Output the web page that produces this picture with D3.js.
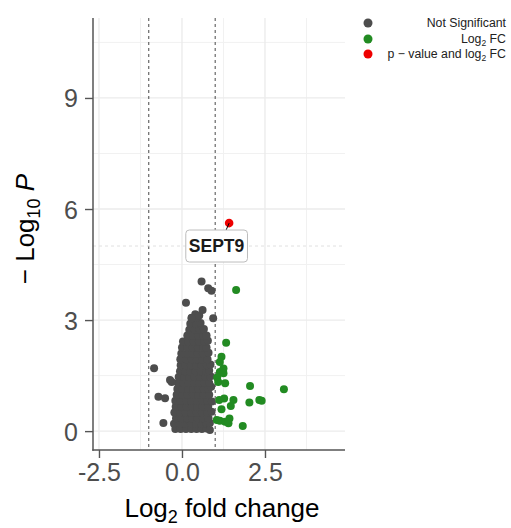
<!doctype html>
<html lang="en">

<head>
  <meta charset="utf-8">
  <title>Volcano plot</title>
  <style>
    body { margin: 0; background: #fff; }
    svg { display: block; font-family: "Liberation Sans", Arial, sans-serif; }
  </style>
</head>

<body>
  <div id="volcano"></div>

  <script src="https://d3js.org/d3.v7.min.js"></script>
  <script>
    // Data (log2 fold change, -log10 p) -----------------------------------------
    const notSignificant = [
      [-0.20, 0.06], [-0.04, 0.06], [0.12, 0.06], [0.28, 0.06], [0.44, 0.06], [0.60, 0.06], [0.74, 0.07],
      [-0.24, 0.20], [-0.06, 0.20], [0.10, 0.20], [0.27, 0.20], [0.43, 0.20], [0.58, 0.20], [0.74, 0.20], [0.84, 0.22],
      [-0.18, 0.35], [-0.01, 0.35], [0.15, 0.35], [0.31, 0.35], [0.47, 0.35], [0.63, 0.35], [0.80, 0.35],
      [-0.23, 0.50], [-0.05, 0.50], [0.11, 0.50], [0.27, 0.50], [0.44, 0.50], [0.60, 0.50], [0.76, 0.50], [0.89, 0.52],
      [-0.19, 0.66], [-0.02, 0.66], [0.14, 0.66], [0.30, 0.66], [0.46, 0.66], [0.62, 0.66], [0.79, 0.66],
      [-0.20, 0.82], [-0.04, 0.82], [0.12, 0.82], [0.28, 0.82], [0.45, 0.82], [0.61, 0.82], [0.77, 0.82], [0.90, 0.80],
      [-0.16, 0.98], [0.01, 0.98], [0.17, 0.98], [0.33, 0.98], [0.49, 0.98], [0.65, 0.98], [0.82, 0.98],
      [-0.14, 1.14], [0.02, 1.14], [0.18, 1.14], [0.34, 1.14], [0.50, 1.14], [0.66, 1.14], [0.80, 1.14], [0.88, 1.20],
      [-0.12, 1.30], [0.04, 1.30], [0.20, 1.30], [0.36, 1.30], [0.52, 1.30], [0.68, 1.30], [0.82, 1.30],
      [-0.10, 1.46], [0.06, 1.46], [0.22, 1.46], [0.38, 1.46], [0.54, 1.46], [0.70, 1.46], [0.86, 1.48],
      [-0.06, 1.62], [0.09, 1.62], [0.25, 1.62], [0.41, 1.62], [0.57, 1.62], [0.73, 1.62], [0.82, 1.64],
      [-0.04, 1.78], [0.11, 1.78], [0.27, 1.78], [0.43, 1.78], [0.59, 1.78], [0.75, 1.78], [0.86, 1.80],
      [-0.05, 1.94], [0.13, 1.94], [0.29, 1.94], [0.45, 1.94], [0.61, 1.94], [0.77, 1.94],
      [-0.02, 2.10], [0.15, 2.10], [0.31, 2.10], [0.47, 2.10], [0.63, 2.10], [0.80, 2.12],
      [0.00, 2.26], [0.16, 2.26], [0.32, 2.26], [0.48, 2.26], [0.64, 2.26], [0.74, 2.26],
      [0.03, 2.42], [0.19, 2.42], [0.35, 2.42], [0.51, 2.42], [0.67, 2.42], [0.78, 2.44],
      [0.16, 2.58], [0.33, 2.58], [0.49, 2.58], [0.64, 2.58], [0.74, 2.58],
      [0.22, 2.74], [0.38, 2.74], [0.53, 2.74], [0.66, 2.76],
      [0.25, 2.90], [0.43, 2.90], [0.56, 2.92],
      [0.29, 3.06], [0.45, 3.06], [0.40, 3.16], [0.52, 3.12],
      [0.59, 4.04], [0.79, 3.86], [0.89, 3.79], [0.12, 3.47], [0.62, 3.27], [0.94, 3.05], [0.29, 3.05],
      [-0.84, 1.70], [-0.31, 1.33], [-0.36, 1.38], [-0.71, 0.93], [-0.51, 0.89], [-0.56, 0.22], [0.84, 0.03]
    ];

    const log2FC = [
      [1.63, 3.81], [1.33, 2.39], [1.19, 2.01], [1.14, 1.87], [1.25, 1.69], [1.14, 1.60], [1.25, 1.56],
      [1.06, 1.45], [1.09, 1.33], [1.30, 1.29], [2.05, 1.22], [3.07, 1.13], [1.27, 0.88], [1.12, 0.84],
      [1.55, 0.84], [2.03, 0.77], [2.33, 0.84], [2.40, 0.82], [1.47, 0.68], [1.19, 0.59], [1.43, 0.34],
      [1.05, 0.30], [1.14, 0.28], [1.30, 0.25], [1.40, 0.21], [1.83, 0.14]
    ];

    const pAndLog2FC = [[1.42, 5.62]];

    // gene label: point, label centre (data units)
    const labelGenes = ["SEPT9"];
    const labelPoint = [[1.42, 5.62]];
    const labelCentre = [[1.04, 5.00]];

    const xTicks = [-2.5, 0, 2.5];
    const xMinor = [-1.25, 1.25, 3.75];
    const yTicks = [0, 3, 6, 9];
    const yMinor = [1.5, 4.5, 7.5, 10.5];
    const fcCutoff = [-1, 1];
    const pCutoff = [5];

    const legendLabels = ["Not Significant", "Log2 FC", "p \u2212 value and log2 FC"];
    const legendColours = ["#4d4d4d", "#228b22", "#ee0000"];

    // Layout ---------------------------------------------------------------------
    const width = 511;
    const height = 528;
    const panel = { left: 93, right: 345, top: 18, bottom: 450 };

    const svg = d3.select("#volcano")
      .append("svg")
      .attr("width", width)
      .attr("height", height);

    const x = d3.scaleLinear()
      .domain([-2.68, 4.91])
      .range([panel.left, panel.right]);

    const y = d3.scaleLinear()
      .domain([-0.51, 11.16])
      .range([panel.bottom, panel.top]);

    // Grid -----------------------------------------------------------------------
    const grid = svg.append("g");

    grid.selectAll(".vminor").data(xMinor).join("line")
      .attr("x1", d => x(d)).attr("x2", d => x(d))
      .attr("y1", panel.top).attr("y2", panel.bottom)
      .attr("stroke", "#f1f1f1").attr("stroke-width", 1);

    grid.selectAll(".hminor").data(yMinor).join("line")
      .attr("y1", d => y(d)).attr("y2", d => y(d))
      .attr("x1", panel.left).attr("x2", panel.right)
      .attr("stroke", "#f1f1f1").attr("stroke-width", 1);

    grid.selectAll(".vmajor").data(xTicks).join("line")
      .attr("x1", d => x(d)).attr("x2", d => x(d))
      .attr("y1", panel.top).attr("y2", panel.bottom)
      .attr("stroke", "#ebebeb").attr("stroke-width", 1.3);

    grid.selectAll(".hmajor").data(yTicks).join("line")
      .attr("y1", d => y(d)).attr("y2", d => y(d))
      .attr("x1", panel.left).attr("x2", panel.right)
      .attr("stroke", "#ebebeb").attr("stroke-width", 1.3);

    // Cutoff lines ---------------------------------------------------------------
    svg.append("g").selectAll("line").data(fcCutoff).join("line")
      .attr("x1", d => x(d)).attr("x2", d => x(d))
      .attr("y1", panel.top).attr("y2", panel.bottom)
      .attr("stroke", "#333").attr("stroke-width", 0.9)
      .attr("stroke-dasharray", "3,3");

    svg.append("g").selectAll("line").data(pCutoff).join("line")
      .attr("y1", d => y(d)).attr("y2", d => y(d))
      .attr("x1", panel.left).attr("x2", panel.right)
      .attr("stroke", "#dcdcdc").attr("stroke-width", 0.9)
      .attr("stroke-dasharray", "3,3");

    // Points ---------------------------------------------------------------------
    const points = svg.append("g");
    [notSignificant, log2FC, pAndLog2FC].forEach((series, i) => {
      points.append("g").selectAll("circle").data(series).join("circle")
        .attr("cx", d => x(d[0]))
        .attr("cy", d => y(d[1]))
        .attr("r", i === 2 ? 4.3 : 4)
        .attr("fill", legendColours[i]);
    });

    // Gene label -----------------------------------------------------------------
    const label = svg.append("g");
    labelGenes.forEach((gene, i) => {
      const cx = x(labelCentre[i][0]);
      const cy = y(labelCentre[i][1]);
      const txt = label.append("text")
        .attr("x", cx).attr("y", cy)
        .attr("text-anchor", "middle")
        .attr("dominant-baseline", "central")
        .attr("font-weight", "bold")
        .attr("font-size", 17.5)
        .attr("fill", "#1a1a1a")
        .text(gene);
      const bb = txt.node().getBBox();
      label.insert("rect", "text")
        .attr("x", bb.x - 3).attr("y", cy - 16)
        .attr("width", bb.width + 6).attr("height", 32)
        .attr("rx", 3.5)
        .attr("fill", "#fff")
        .attr("stroke", "#bdbdbd").attr("stroke-width", 1);
      label.insert("line", "rect")
        .attr("x1", x(labelPoint[i][0])).attr("y1", y(labelPoint[i][1]))
        .attr("x2", x(labelPoint[i][0]) - 3).attr("y2", cy - 16)
        .attr("stroke", "#000").attr("stroke-width", 1);
    });

    // Axes -----------------------------------------------------------------------
    const axisColour = "#555";
    const tickColour = "#4d4d4d";

    const xAxis = svg.append("g")
      .attr("transform", `translate(0,${panel.bottom})`)
      .call(d3.axisBottom(x).tickValues(xTicks).tickSize(8).tickPadding(5)
        .tickFormat(d3.format(".1f")));

    const yAxis = svg.append("g")
      .attr("transform", `translate(${panel.left},0)`)
      .call(d3.axisLeft(y).tickValues(yTicks).tickSize(8).tickPadding(7));

    [xAxis, yAxis].forEach(a => {
      a.select(".domain").remove();
      a.selectAll(".tick line").attr("stroke", axisColour).attr("stroke-width", 1.4);
      a.selectAll(".tick text")
        .attr("fill", tickColour)
        .attr("font-size", 25)
        .attr("font-family", "Liberation Sans, Arial, sans-serif");
    });
    yAxis.selectAll(".tick text").attr("dy", "0.36em");
    xAxis.selectAll(".tick text").text(d => d3.format(".1f")(d).replace("\u2212", "-"));

    svg.append("line")
      .attr("x1", panel.left).attr("x2", panel.left)
      .attr("y1", panel.top).attr("y2", panel.bottom + 0.7)
      .attr("stroke", axisColour).attr("stroke-width", 1.5);
    svg.append("line")
      .attr("x1", panel.left - 0.7).attr("x2", panel.right)
      .attr("y1", panel.bottom).attr("y2", panel.bottom)
      .attr("stroke", axisColour).attr("stroke-width", 1.5);

    // Axis titles ----------------------------------------------------------------
    const xTitle = svg.append("text")
      .attr("x", (panel.left + panel.right) / 2 + 3)
      .attr("y", 517)
      .attr("text-anchor", "middle")
      .attr("font-size", 26)
      .attr("fill", "#000");
    xTitle.append("tspan").text("Log");
    xTitle.append("tspan").attr("font-size", 18).attr("dy", 6).text("2");
    xTitle.append("tspan").attr("dy", -6).text(" fold change");

    const yTitle = svg.append("text")
      .attr("transform", `translate(34,${(panel.top + panel.bottom) / 2 - 5}) rotate(-90)`)
      .attr("text-anchor", "middle")
      .attr("font-size", 26)
      .attr("fill", "#000");
    yTitle.append("tspan").text("\u2212 Log");
    yTitle.append("tspan").attr("font-size", 18).attr("dy", 6).text("10");
    yTitle.append("tspan").attr("dy", -6).text(" ");
    yTitle.append("tspan").attr("font-style", "italic").text("P");

    // Legend ---------------------------------------------------------------------
    const legendY = [23, 39, 54];
    const legend = svg.append("g");
    legendLabels.forEach((lab, i) => {
      legend.append("circle")
        .attr("cx", 368).attr("cy", legendY[i])
        .attr("r", 4.5)
        .attr("fill", legendColours[i]);
      const t = legend.append("text")
        .attr("x", 506).attr("y", legendY[i] + 4)
        .attr("text-anchor", "end")
        .attr("font-size", 12.3)
        .attr("fill", "#222");
      const parts = lab.split("2");
      if (parts.length > 1) {
        t.append("tspan").text(parts[0]);
        t.append("tspan").attr("font-size", 8.5).attr("dy", 2.5).text("2");
        t.append("tspan").attr("dy", -2.5).text(parts[1]);
      } else {
        t.text(lab);
      }
    });
  </script>

</body>

</html>
